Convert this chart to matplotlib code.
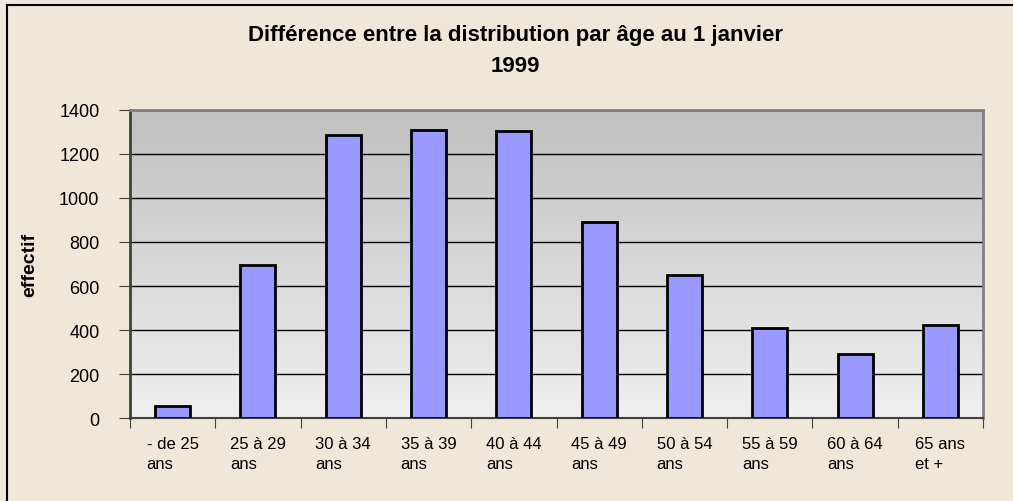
import numpy as np
import matplotlib.pyplot as plt
from matplotlib.lines import Line2D
from matplotlib.colors import LinearSegmentedColormap

# data
categories = ['- de 25\nans', '25 à 29\nans', '30 à 34\nans', '35 à 39\nans', '40 à 44\nans',
              '45 à 49\nans', '50 à 54\nans', '55 à 59\nans', '60 à 64\nans', '65 ans\net +']
effectif = [55, 695, 1285, 1310, 1305, 890, 648, 410, 292, 425]
yticks = [0, 200, 400, 600, 800, 1000, 1200, 1400]

bg = '#EFE7D8'
plt.rcParams['font.family'] = ['Liberation Sans', 'DejaVu Sans']

fig = plt.figure(figsize=(10.13, 5.02), dpi=100, facecolor=bg)
ax = fig.add_axes([130 / 1013, 1 - 419 / 502, (983 - 130) / 1013, (419 - 111) / 502])

# grey gradient background (dark at top, light at bottom)
grad = np.linspace(0, 1, 256).reshape(-1, 1)
cmap = LinearSegmentedColormap.from_list('g', ['#F0F0F0', '#C0C0C0'])
ax.imshow(grad, extent=[0, 1, 0, 1], transform=ax.transAxes, aspect='auto',
          cmap=cmap, origin='lower', zorder=0)

x = np.arange(len(categories))
ax.bar(x, effectif, width=0.41, color='#9999FF', edgecolor='black', linewidth=2, zorder=3)

ax.set_xlim(-0.5, len(categories) - 0.5)
ax.set_ylim(0, 1400)
ax.set_yticks(yticks)
ax.set_yticklabels([str(v) for v in yticks], fontsize=13)
ax.yaxis.grid(True, color='black', linewidth=1)
for gl in ax.get_ygridlines():
    gl.set_zorder(1)

# x ticks at category boundaries, labels centred on bars
ax.set_xticks(np.arange(-0.5, len(categories), 1))
ax.set_xticklabels([])
ax.set_xticks(x, minor=True)
ax.set_xticklabels(categories, minor=True, fontsize=12, linespacing=1.45, multialignment='left')
ax.tick_params(axis='x', which='minor', length=0, pad=13)
ax.tick_params(axis='x', which='major', length=7, direction='out', color='#404040')
ax.tick_params(axis='y', length=8, direction='out', color='#404040', pad=14)

for s in ['top', 'right']:
    ax.spines[s].set_color('#808080')
    ax.spines[s].set_linewidth(2)
ax.spines['left'].set_color('#404040')
ax.spines['left'].set_linewidth(2)
ax.spines['bottom'].set_color('#404040')
ax.spines['bottom'].set_linewidth(1.5)

fig.text(30 / 1013, 1 - 265 / 502, 'effectif', rotation=90, fontsize=14, fontweight='bold',
         ha='center', va='center')
fig.text(515 / 1013, 1 - 51 / 502, 'Différence entre la distribution par âge au 1 janvier\n1999',
         fontsize=16, fontweight='bold', ha='center', va='center', linespacing=1.6)

# outer chart frame (top and left edges visible)
fig.add_artist(Line2D([7 / 1013, 1], [1 - 6 / 502, 1 - 6 / 502], color='black', linewidth=1.5))
fig.add_artist(Line2D([7 / 1013, 7 / 1013], [0, 1 - 6 / 502], color='black', linewidth=1.5))

fig.savefig('out.png', dpi=100, facecolor=bg)
